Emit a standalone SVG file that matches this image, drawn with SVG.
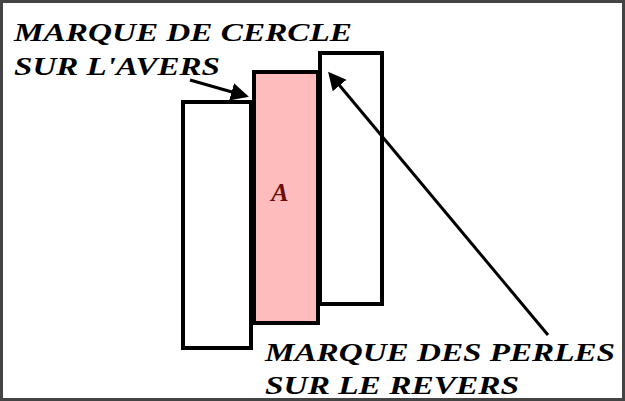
<svg xmlns="http://www.w3.org/2000/svg" width="625" height="401" viewBox="0 0 625 401">
<style>
.t{font-family:"Liberation Serif","DejaVu Serif",serif;font-weight:bold;font-style:italic;font-size:25px;fill:#000}
.r{stroke:#000;stroke-width:4}
.a{stroke:#000;stroke-width:3;fill:none}
</style>
<defs><marker id="ah" markerWidth="6" markerHeight="6" refX="5" refY="3" orient="auto" markerUnits="strokeWidth"><path d="M0,0L6,3L0,6z" fill="#000"/></marker></defs>
<rect x="0" y="0" width="625" height="401" fill="#fff"/>
<rect x="1.5" y="1.5" width="622" height="398" fill="none" stroke="#444" stroke-width="3"/>
<g id="left"><rect class="r" x="183" y="102" width="68" height="246" fill="#fff"/></g>
<g id="right"><rect class="r" x="320" y="53" width="62" height="251" fill="#fff"/></g>
<g id="mid"><rect class="r" x="254" y="72" width="64" height="251" fill="#ffbcbc"/>
<text x="280" y="201" class="t" style="font-size:26px;fill:#6a0e0e" text-anchor="middle">A</text></g>
<g id="connectors">
<line class="a" x1="190" y1="80" x2="246" y2="96" marker-end="url(#ah)"/>
<line class="a" x1="548" y1="335" x2="330" y2="74" marker-end="url(#ah)"/>
</g>
<g id="labels">
<text class="t" x="14" y="41" textLength="338" lengthAdjust="spacingAndGlyphs">MARQUE DE CERCLE</text>
<text class="t" x="14" y="75" textLength="206" lengthAdjust="spacingAndGlyphs">SUR L'AVERS</text>
<text class="t" x="265" y="361" textLength="350" lengthAdjust="spacingAndGlyphs">MARQUE DES PERLES</text>
<text class="t" x="265" y="394" textLength="254" lengthAdjust="spacingAndGlyphs">SUR LE REVERS</text>
</g>
</svg>
